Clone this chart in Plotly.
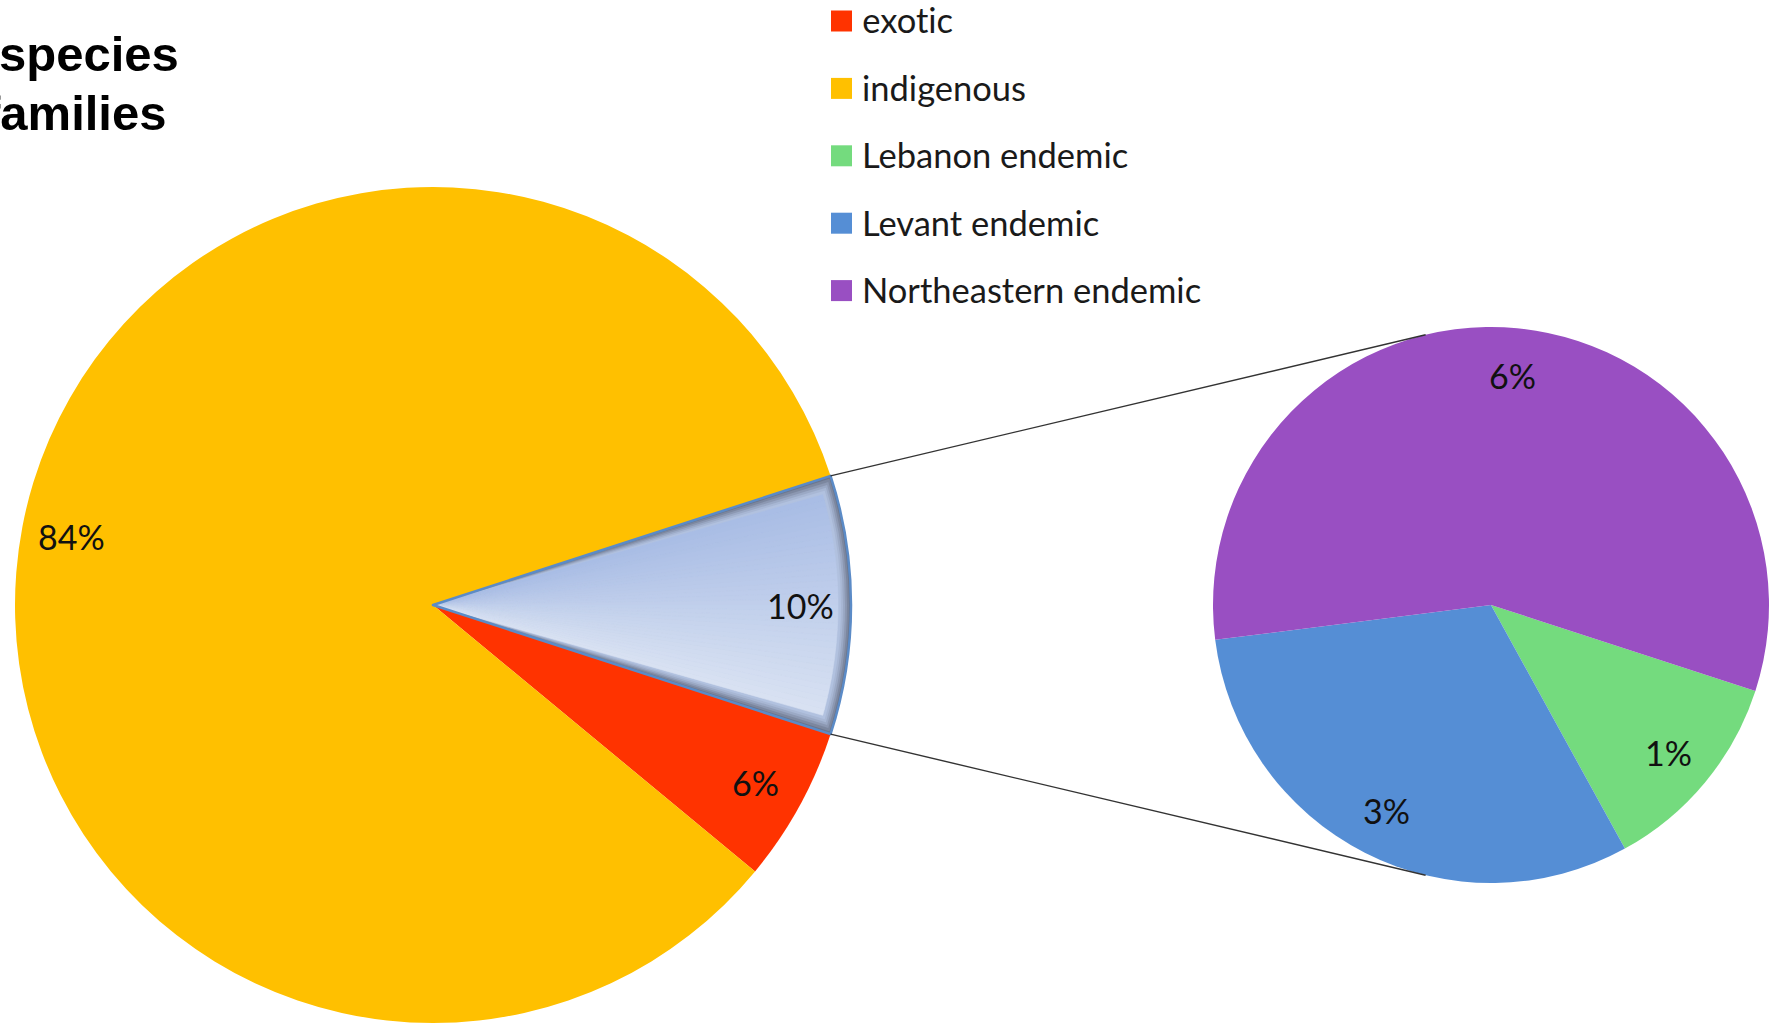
import math
import plotly.graph_objects as go

# ---- data -------------------------------------------------------------
MAIN_LABELS = ["exotic", "indigenous"]
MAIN_VALUES = [6, 84]                      # % of all species
SUB_LABELS = ["Lebanon endemic", "Levant endemic", "Northeastern endemic"]
SUB_VALUES = [1.2, 3.1, 5.7]               # endemic split, % of all species
LEGEND_LABELS = ["exotic", "indigenous", "Lebanon endemic",
                 "Levant endemic", "Northeastern endemic"]
TITLE_LINES = ["species", "families"]

# ---- style ------------------------------------------------------------
COLORS = {
    "exotic": "#ff3300",
    "indigenous": "#ffc000",
    "Lebanon endemic": "#74db7e",
    "Levant endemic": "#558ed5",
    "Northeastern endemic": "#994fc2",
}
W, H = 1769, 1023
FONT = "Lato, Carlito, Calibri, sans-serif"
TRANSPARENT = "rgba(0,0,0,0)"

MAIN_CX, MAIN_CY, MAIN_R = 433, 605, 418   # pixel geometry of the main pie
SUB_CX, SUB_CY, SUB_R = 1491, 605, 278     # pixel geometry of the detail pie
SUB_ROTATION = 108
CONNECT_ANGLE = 13.6                       # where the leader lines meet the detail pie
MAIN_LABEL_R, SUB_LABEL_R = 0.88, 0.83

OTHER = sum(SUB_VALUES)
TOTAL = OTHER + sum(MAIN_VALUES)
OTHER_DEG = OTHER / TOTAL * 360
MAIN_ROTATION = 90 - OTHER_DEG / 2         # endemic wedge centred on 3 o'clock


def clamp(v):
    return min(1.0, max(0.0, v))


def domain(cx, cy, r):
    return dict(x=[clamp((cx - r) / W), clamp((cx + r) / W)],
                y=[clamp(1 - (cy + r) / H), clamp(1 - (cy - r) / H)])


def point(cx, cy, r, ang):
    """Paper coords of a point at clockwise angle `ang` from 12 o'clock."""
    a = math.radians(ang)
    return (cx + r * math.sin(a)) / W, 1 - (cy - r * math.cos(a)) / H


def mid_angles(values, rotation):
    tot = sum(values)
    out, a = [], rotation
    for v in values:
        span = v / tot * 360
        out.append(a + span / 2)
        a += span
    return out


def hex_mix(c1, c2, t):
    a = [int(c1[i:i + 2], 16) for i in (1, 3, 5)]
    b = [int(c2[i:i + 2], 16) for i in (1, 3, 5)]
    return "#" + "".join(f"{round(x + (y - x) * t):02x}" for x, y in zip(a, b))


fig = go.Figure()

# main pie: endemic wedge first, then exotic and indigenous
main_vals = [OTHER] + MAIN_VALUES
fig.add_trace(go.Pie(
    values=main_vals, labels=["endemic"] + MAIN_LABELS,
    marker=dict(colors=["#6c768d"] + [COLORS[l] for l in MAIN_LABELS],
                line=dict(width=0)),
    sort=False, direction="clockwise", rotation=MAIN_ROTATION,
    textinfo="none", hoverinfo="label+percent",
    domain=domain(MAIN_CX, MAIN_CY, MAIN_R), showlegend=False,
))

# soft inner shadow on the endemic wedge: nested, slightly inset wedges
shade_steps = [(2, 0.35, "#7c879f"), (4, 0.7, "#8c98b2"), (6, 1.05, "#9ba9c5"),
               (8, 1.4, "#a8b7d4"), (10, 1.75, "#b1c1df")]
for dr, da, col in shade_steps:
    fig.add_trace(go.Pie(
        values=[da, OTHER_DEG - 2 * da, 360 - OTHER_DEG + da],
        marker=dict(colors=[TRANSPARENT, col, TRANSPARENT], line=dict(width=0)),
        sort=False, direction="clockwise", rotation=MAIN_ROTATION,
        textinfo="none", hoverinfo="skip",
        domain=domain(MAIN_CX, MAIN_CY, MAIN_R - dr), showlegend=False,
    ))

# core of the wedge with a top-to-bottom light blue gradient
core_dr, core_da, bands = 13, 2.2, 36
core_span = OTHER_DEG - 2 * core_da
band_vals = [core_da] + [core_span / bands] * bands + [360 - OTHER_DEG + core_da]
band_cols = [TRANSPARENT] + [hex_mix("#a9bde5", "#d8e1f2", i / (bands - 1))
                             for i in range(bands)] + [TRANSPARENT]
fig.add_trace(go.Pie(
    values=band_vals,
    marker=dict(colors=band_cols, line=dict(color=band_cols, width=0.6)),
    sort=False, direction="clockwise", rotation=MAIN_ROTATION,
    textinfo="none", hoverinfo="skip",
    domain=domain(MAIN_CX, MAIN_CY, MAIN_R - core_dr), showlegend=False,
))

# blue outline of the endemic wedge on top
fig.add_trace(go.Pie(
    values=main_vals,
    marker=dict(colors=[TRANSPARENT] * 3,
                line=dict(color=["#5b8bc7", TRANSPARENT, TRANSPARENT],
                          width=[2.5, 0, 0])),
    sort=False, direction="clockwise", rotation=MAIN_ROTATION,
    textinfo="none", hoverinfo="skip",
    domain=domain(MAIN_CX, MAIN_CY, MAIN_R), showlegend=False,
))

# detail pie of the endemic species
fig.add_trace(go.Pie(
    values=SUB_VALUES, labels=SUB_LABELS,
    marker=dict(colors=[COLORS[l] for l in SUB_LABELS], line=dict(width=0)),
    sort=False, direction="clockwise", rotation=SUB_ROTATION,
    textinfo="none", hoverinfo="label+value",
    domain=domain(SUB_CX, SUB_CY, SUB_R), showlegend=False,
))

annotations = []
label_font = dict(family=FONT, size=34, color="#111111")

# percentage labels
for v, ang in zip(main_vals, mid_angles(main_vals, MAIN_ROTATION)):
    x, y = point(MAIN_CX, MAIN_CY, MAIN_LABEL_R * MAIN_R, ang)
    annotations.append(dict(x=x, y=y, xref="paper", yref="paper",
                            xanchor="center", yanchor="middle",
                            text=f"{v:.0f}%", showarrow=False, font=label_font))
for v, ang in zip(SUB_VALUES, mid_angles(SUB_VALUES, SUB_ROTATION)):
    x, y = point(SUB_CX, SUB_CY, SUB_LABEL_R * SUB_R, ang)
    annotations.append(dict(x=x, y=y, xref="paper", yref="paper",
                            xanchor="center", yanchor="middle",
                            text=f"{v:.0f}%", showarrow=False, font=label_font))

shapes = []
# leader lines from the endemic wedge to the detail pie
for sign in (-1, 1):
    x0, y0 = point(MAIN_CX, MAIN_CY, MAIN_R, 90 + sign * OTHER_DEG / 2)
    x1, y1 = point(SUB_CX, SUB_CY, SUB_R, 90 + sign * (90 + CONNECT_ANGLE))
    shapes.append(dict(type="line", xref="paper", yref="paper",
                       x0=x0, y0=y0, x1=x1, y1=y1,
                       line=dict(color="#333333", width=1.4)))

# legend: colour squares and names
LEG_X, LEG_Y0, LEG_DY, SQ = 831, 21, 67.4, 21
for i, name in enumerate(LEGEND_LABELS):
    yc = LEG_Y0 + i * LEG_DY
    shapes.append(dict(type="rect", xref="paper", yref="paper",
                       x0=LEG_X / W, x1=(LEG_X + SQ) / W,
                       y0=1 - (yc + SQ / 2) / H, y1=1 - (yc - SQ / 2) / H,
                       fillcolor=COLORS[name], line=dict(width=0)))
    annotations.append(dict(x=(LEG_X + SQ + 8) / W, y=1 - (yc - 1) / H,
                            xref="paper", yref="paper", xanchor="left",
                            yanchor="middle", text=name, showarrow=False,
                            font=dict(family=FONT, size=34.5, color="#1a1a1a")))

# heading in the top-left corner
for text, x_right, y_mid in zip(TITLE_LINES, [181, 168], [54, 113]):
    annotations.append(dict(x=x_right / W, y=1 - y_mid / H, xref="paper",
                            yref="paper", xanchor="right", yanchor="middle",
                            text=f"<b>{text}</b>", showarrow=False,
                            font=dict(family="Liberation Sans, Arial, Helvetica, sans-serif",
                                      size=49, color="#000000")))

fig.update_layout(
    width=W, height=H, margin=dict(l=0, r=0, t=0, b=0),
    paper_bgcolor="white", plot_bgcolor="white",
    showlegend=False, shapes=shapes, annotations=annotations,
)

# plain glyphs, no typographic ligatures in the SVG text
fig.write_html(
    "out.html",
    post_script="document.querySelectorAll('svg text').forEach("
                "function(t){t.style.fontVariantLigatures='none';"
                "t.style.fontFeatureSettings='\"liga\" 0';});",
)
